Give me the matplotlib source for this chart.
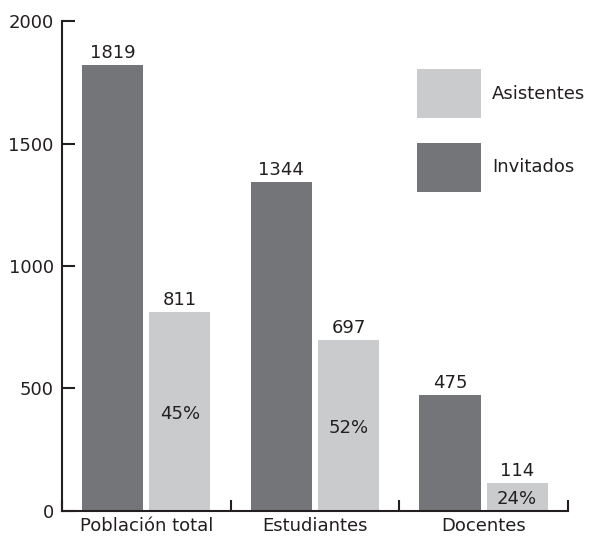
import numpy as np
import matplotlib.pyplot as plt

categories = ["Población total", "Estudiantes", "Docentes"]
invitados = [1819, 1344, 475]
asistentes = [811, 697, 114]
porcentajes = ["45%", "52%", "24%"]

dark = "#747578"
light = "#cacbcd"
ink = "#231f20"

plt.rcParams['font.family'] = ['DejaVu Sans']
plt.rcParams['text.color'] = ink

fig = plt.figure(figsize=(5.93, 5.39), dpi=100)
ax = fig.add_axes([0.1046, 0.052, 0.853, 0.909])

x = np.arange(len(categories))
w = 0.362
off = 0.199
fs = 13

b1 = ax.bar(x - off, invitados, w, color=dark, label="Invitados", zorder=2)
b2 = ax.bar(x + off, asistentes, w, color=light, label="Asistentes", zorder=2)

for xi, v in zip(x, invitados):
    ax.text(xi - off, v + 12, str(v), ha="center", va="bottom", fontsize=fs)
for xi, v, p in zip(x, asistentes, porcentajes):
    ax.text(xi + off, v + 12, str(v), ha="center", va="bottom", fontsize=fs)
    ax.text(xi + off, v / 2 - 8, p, ha="center", va="center", fontsize=fs)

ax.set_xlim(-0.5, 2.5)
ax.set_ylim(0, 2000)
ax.set_yticks([0, 500, 1000, 1500, 2000])
ax.set_xticks(x)
ax.set_xticklabels(categories, fontsize=fs)
ax.set_xticks([-0.5, 0.5, 1.5, 2.5], minor=True)
ax.tick_params(axis="x", which="major", length=0, pad=4, colors=ink)
ax.tick_params(axis="x", which="minor", direction="in", length=8, width=1.5, color=ink)
ax.tick_params(axis="y", direction="in", length=9, width=1.5, labelsize=fs, colors=ink, pad=6)

for s in ["top", "right"]:
    ax.spines[s].set_visible(False)
for s in ["left", "bottom"]:
    ax.spines[s].set_linewidth(1.5)
    ax.spines[s].set_color(ink)

ax.legend(handles=[b2, b1], labels=["Asistentes", "Invitados"], loc="upper left",
          bbox_to_anchor=(0.676, 0.902), bbox_transform=fig.transFigure,
          frameon=False, fontsize=fs, handlelength=3.54, handleheight=3.8,
          labelspacing=1.38, handletextpad=0.6)

fig.savefig("out.png", dpi=100)
